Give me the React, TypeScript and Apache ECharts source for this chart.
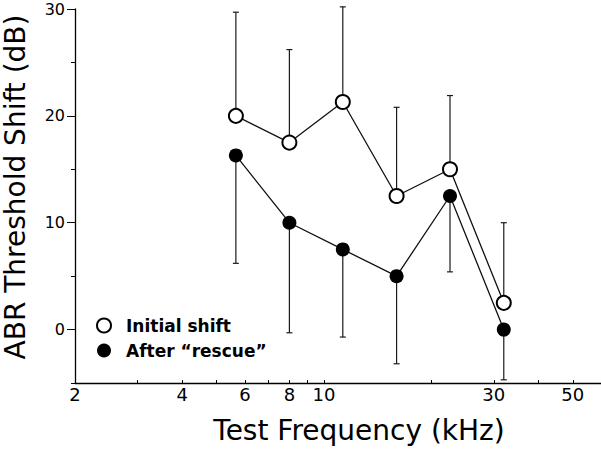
import React, { useEffect, useRef } from "react";
import * as echarts from "echarts";

const frequencies = [5.66, 8, 11.3, 16, 22.6, 32];
const initialShift = [20, 17.5, 21.3, 12.5, 15, 2.5];
const initialUpper = [29.7, 26.2, 30.2, 20.8, 21.9, 10.0];
const afterRescue = [16.3, 10, 7.5, 5, 12.5, 0];
const afterLower = [6.2, -0.3, -0.7, -3.2, 5.4, -4.7];
const xTickLabels = [2, 4, 6, 8, 10, 30, 50];
const xTickMarks = [2, 3, 4, 5, 6, 7, 8, 9, 10, 20, 30, 40, 50];
const yMajor = [0, 10, 20, 30];
const yMinor = [-5, 5, 15, 25];

const FONT = "DejaVu Sans";

function errorBarSeries(name: string, values: number[], bounds: number[]) {
  return {
    type: "custom",
    name,
    z: 1,
    clip: false,
    data: frequencies.map((f, i) => [f, values[i], bounds[i]]),
    renderItem: (params: any, api: any) => {
      const x = api.value(0);
      const p0 = api.coord([x, api.value(1)]);
      const p1 = api.coord([x, api.value(2)]);
      const half = 3;
      const style = { stroke: "#1a1a1a", lineWidth: 1.2 };
      return {
        type: "group",
        children: [
          { type: "line", shape: { x1: p0[0], y1: p0[1], x2: p1[0], y2: p1[1] }, style },
          { type: "line", shape: { x1: p1[0] - half, y1: p1[1], x2: p1[0] + half, y2: p1[1] }, style },
        ],
      };
    },
  };
}

export default function App() {
  const ref = useRef<HTMLDivElement>(null);
  useEffect(() => {
    if (!ref.current) return;
    const chart = echarts.init(ref.current, null, { renderer: "svg" });
    chart.setOption({
      animation: false,
      backgroundColor: "#fff",
      grid: { left: 75, right: 0, top: 9, bottom: 67 },
      xAxis: {
        type: "log",
        logBase: 10,
        min: 2,
        max: 60,
        axisLine: { onZero: false, lineStyle: { color: "#000", width: 1.3 } },
        axisTick: { inside: true, length: 3, customValues: xTickMarks, lineStyle: { color: "#000" } },
        axisLabel: {
          customValues: xTickLabels,
          formatter: (v: number) => String(Math.round(v)),
          color: "#000",
          fontFamily: FONT,
          fontSize: 18,
          margin: 2,
        },
        splitLine: { show: false },
        minorTick: { show: false },
      },
      yAxis: [
        {
          type: "value",
          min: -5,
          max: 30,
          axisLine: { show: true, lineStyle: { color: "#000", width: 1.3 } },
          axisTick: { show: true, length: 8, customValues: yMajor, lineStyle: { color: "#000" } },
          axisLabel: { customValues: yMajor, color: "#000", fontFamily: FONT, fontSize: 16, margin: 10 },
          splitLine: { show: false },
        },
        {
          type: "value",
          position: "left",
          min: -5,
          max: 30,
          axisLine: { show: false },
          axisTick: { show: true, length: 4, customValues: yMinor, lineStyle: { color: "#000" } },
          axisLabel: { show: false },
          splitLine: { show: false },
        },
      ],
      legend: {
        orient: "vertical",
        left: 91,
        top: 312,
        itemWidth: 34,
        itemHeight: 14,
        itemGap: 8,
        textStyle: { fontFamily: FONT, fontWeight: "bold", fontSize: 17, color: "#000" },
        data: [
          { name: "Initial shift", icon: "circle", itemStyle: { color: "#fff", borderColor: "#000", borderWidth: 2 } },
          { name: "After \u201crescue\u201d", icon: "circle", itemStyle: { color: "#000", borderColor: "#000", borderWidth: 0 } },
        ],
      },
      graphic: [
        {
          type: "text",
          x: 15,
          y: 187,
          rotation: Math.PI / 2,
          style: {
            text: "ABR Threshold Shift (dB)",
            font: `28px '${FONT}'`,
            fill: "#000",
            textAlign: "center",
            textVerticalAlign: "middle",
          },
        },
        {
          type: "text",
          x: 359,
          y: 430,
          style: {
            text: "Test Frequency (kHz)",
            font: `28px '${FONT}'`,
            fill: "#000",
            textAlign: "center",
            textVerticalAlign: "middle",
          },
        },
      ],
      series: [
        errorBarSeries("initErr", initialShift, initialUpper),
        errorBarSeries("afterErr", afterRescue, afterLower),
        {
          type: "line",
          name: "Initial shift",
          z: 3,
          data: frequencies.map((f, i) => [f, initialShift[i]]),
          symbol: "circle",
          symbolSize: 14,
          showSymbol: true,
          lineStyle: { color: "#111", width: 1.3 },
          itemStyle: { color: "#fff", borderColor: "#000", borderWidth: 2 },
        },
        {
          type: "line",
          name: "After \u201crescue\u201d",
          z: 3,
          data: frequencies.map((f, i) => [f, afterRescue[i]]),
          symbol: "circle",
          symbolSize: 14,
          showSymbol: true,
          lineStyle: { color: "#111", width: 1.3 },
          itemStyle: { color: "#000", borderColor: "#000", borderWidth: 0 },
        },
      ],
    });
    return () => chart.dispose();
  }, []);
  return (
    <div
      ref={ref}
      style={{ position: "absolute", left: 0, top: 0, width: 601, height: 450 }}
    />
  );
}
